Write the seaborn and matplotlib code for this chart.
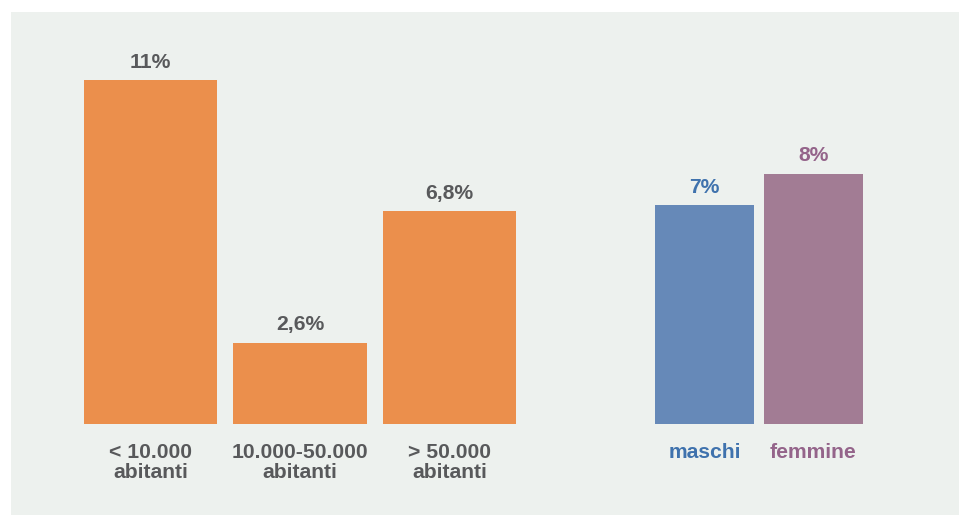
import matplotlib
matplotlib.use("Agg")
import matplotlib.pyplot as plt
import seaborn as sns
import pandas as pd

# Data
size_categories = ["< 10.000\nabitanti", "10.000-50.000\nabitanti", "> 50.000\nabitanti"]
size_values = [11.0, 2.6, 6.8]
size_labels = ["11%", "2,6%", "6,8%"]

sex_categories = ["maschi", "femmine"]
sex_values = [7.0, 8.0]
sex_labels = ["7%", "8%"]

sns.set_theme(style="white")
plt.rcParams["font.family"] = ["Liberation Sans", "DejaVu Sans"]

W, H, DPI = 959, 515, 100
fig = plt.figure(figsize=(W / DPI, H / DPI), dpi=DPI, facecolor="white")

# background panel
bg = fig.add_axes([11 / W, 0, (W - 11) / W, (H - 12) / H], zorder=-5)
bg.set_facecolor("#edf1ee")
bg.set_xticks([])
bg.set_yticks([])
for s in bg.spines.values():
    s.set_visible(False)

base = (H - 424) / H
height = 344 / H

ax1 = fig.add_axes([75.75 / W, base, 448.5 / W, height], zorder=1)
ax2 = fig.add_axes([650 / W, base, 218 / W, height], zorder=1)

orange = "#eb8f4c"
blue = "#6689b8"
purple = "#a27c94"
grey = "#58595b"

df1 = pd.DataFrame({"cat": size_categories, "val": size_values})
df2 = pd.DataFrame({"cat": sex_categories, "val": sex_values})

sns.barplot(data=df1, x="cat", y="val", hue="cat", palette=[orange] * 3,
            legend=False, width=0.89, saturation=1, linewidth=0, ax=ax1)
sns.barplot(data=df2, x="cat", y="val", hue="cat", palette=[blue, purple],
            legend=False, width=0.908, saturation=1, linewidth=0, ax=ax2)

fs = 15.2
for ax, cats, vals, labs, vcols, ccols in [
    (ax1, size_categories, size_values, size_labels, [grey] * 3, [grey] * 3),
    (ax2, sex_categories, sex_values, sex_labels, ["#3f72ad", "#94648a"], ["#3f72ad", "#94648a"]),
]:
    ax.set_ylim(0, 11)
    ax.set_xlim(-0.5, len(cats) - 0.5)
    ax.set_facecolor("none")
    ax.patch.set_alpha(0)
    for s in ax.spines.values():
        s.set_visible(False)
    ax.set_xticks([])
    ax.set_yticks([])
    ax.set_xlabel("")
    ax.set_ylabel("")
    for i, (c, v, l) in enumerate(zip(cats, vals, labs)):
        ax.annotate(l, xy=(i, v), xytext=(0, 9), textcoords="offset points",
                    ha="center", va="baseline", fontsize=fs, fontweight="bold",
                    color=vcols[i], annotation_clip=False)
        ax.annotate(c, xy=(i, 0), xytext=(0, -13.5), textcoords="offset points",
                    ha="center", va="top", fontsize=fs, fontweight="bold",
                    color=ccols[i], linespacing=1.05, annotation_clip=False)

fig.savefig("out.png", dpi=DPI, facecolor="white")
